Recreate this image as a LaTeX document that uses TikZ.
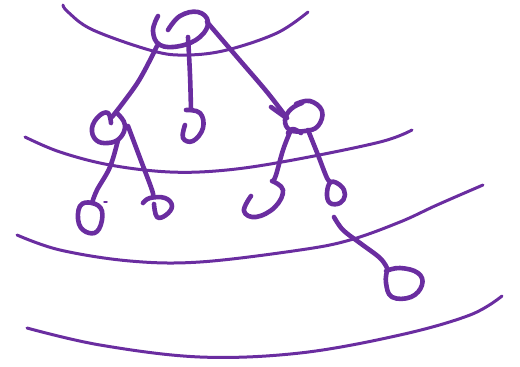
\documentclass[tikz,border=0pt]{standalone}
\definecolor{ink}{RGB}{106,45,160}
\begin{document}
\begin{tikzpicture}[x=1pt,y=-1pt,
  levelline/.style={draw=ink,line width=3pt,line cap=round,line join=round},
  pen/.style={draw=ink,line width=4.6pt,line cap=round,line join=round}]
\useasboundingbox (0,0) rectangle (520,367);
% level lines
\draw[levelline] plot[smooth,tension=0.6] coordinates {(63,5) (68,12) (93,30) (153,51) (187,55) (227,50) (277,33) (308,12)};
\draw[levelline] plot[smooth,tension=0.6] coordinates {(25,137) (60,152) (110,165) (170,172) (227,170) (293,160) (380,142) (412,130)};
\draw[levelline] plot[smooth,tension=0.6] coordinates {(17,235) (60,250) (130,261) (200,262) (300,250) (350,240) (400,222) (437,205) (483,185)};
\draw[levelline] plot[smooth,tension=0.6] coordinates {(27,328) (100,345) (200,357) (300,353) (400,335) (470,315) (502,296)};
% root
\draw[pen] plot[smooth,tension=0.7] coordinates {(158,16) (153,31) (160,45) (180,46) (200,37) (208,22) (198,12) (180,16) (168,30)};
% edges from root
\draw[pen] plot[smooth,tension=0.6] coordinates {(157,46) (138,82) (112,117)};
\draw[pen] plot[smooth,tension=0.6] coordinates {(188,37) (190,75) (191,110)};
\draw[pen] plot[smooth,tension=0.6] coordinates {(207,22) (237,57) (267,92) (287,118)};
% middle child (hook)
\draw[pen] plot[smooth,tension=0.7] coordinates {(185,125) (183,138) (193,141) (203,128) (200,113) (186,110)};
% left child
\draw[pen] plot[smooth,tension=0.7] coordinates {(111,123) (108,113) (99,116) (92,128) (96,140) (108,143) (120,138) (125,125) (118,114)};
% right child
\draw[pen] plot[smooth,tension=0.7] coordinates {(271,107) (285,117)};
\draw[pen] plot[smooth,tension=0.7] coordinates {(296,104) (310,101) (322,111) (318,126) (305,131) (290,130) (285,120) (291,109) (302,103)};
\draw[pen] plot[smooth,tension=0.7] coordinates {(288,133) (293,129) (301,133)};
% edges from left child
\draw[pen] plot[smooth,tension=0.6] coordinates {(118,140) (110,167) (97,190) (92,203)};
\draw[pen] plot[smooth,tension=0.6] coordinates {(128,126) (140,158) (152,190) (153,197)};
% edges from right child
\draw[pen] plot[smooth,tension=0.6] coordinates {(290,132) (283,150) (276,175) (273,181)};
\draw[pen] plot[smooth,tension=0.6] coordinates {(308,130) (318,155) (327,178) (331,182)};
% level-2 nodes
\draw[pen] plot[smooth cycle,tension=0.7] coordinates {(92,203) (102,211) (99,229) (89,233) (79,224) (80,206)};
\draw[ink,line width=1.5pt,line cap=round] (104,202) -- (107,202);
\draw[pen] plot[smooth,tension=0.7] coordinates {(143,203) (150,198) (165,198) (172,206) (166,215) (157,217) (154,204)};
\draw[pen] plot[smooth,tension=0.7] coordinates {(272,181) (283,190) (275,207) (256,217) (244,211) (251,196)};
\draw[pen] plot[smooth cycle,tension=0.7] coordinates {(331,182) (341,186) (345,195) (340,203) (330,203) (327,193)};
% edge to level-3 node
\draw[pen] plot[smooth,tension=0.6] coordinates {(334,217) (343,230) (360,243) (380,258) (387,268)};
\draw[pen] plot[smooth,tension=0.7] coordinates {(386,271) (400,268) (418,273) (422,285) (411,297) (392,297) (386,283) (387,271)};
\end{tikzpicture}
\end{document}
